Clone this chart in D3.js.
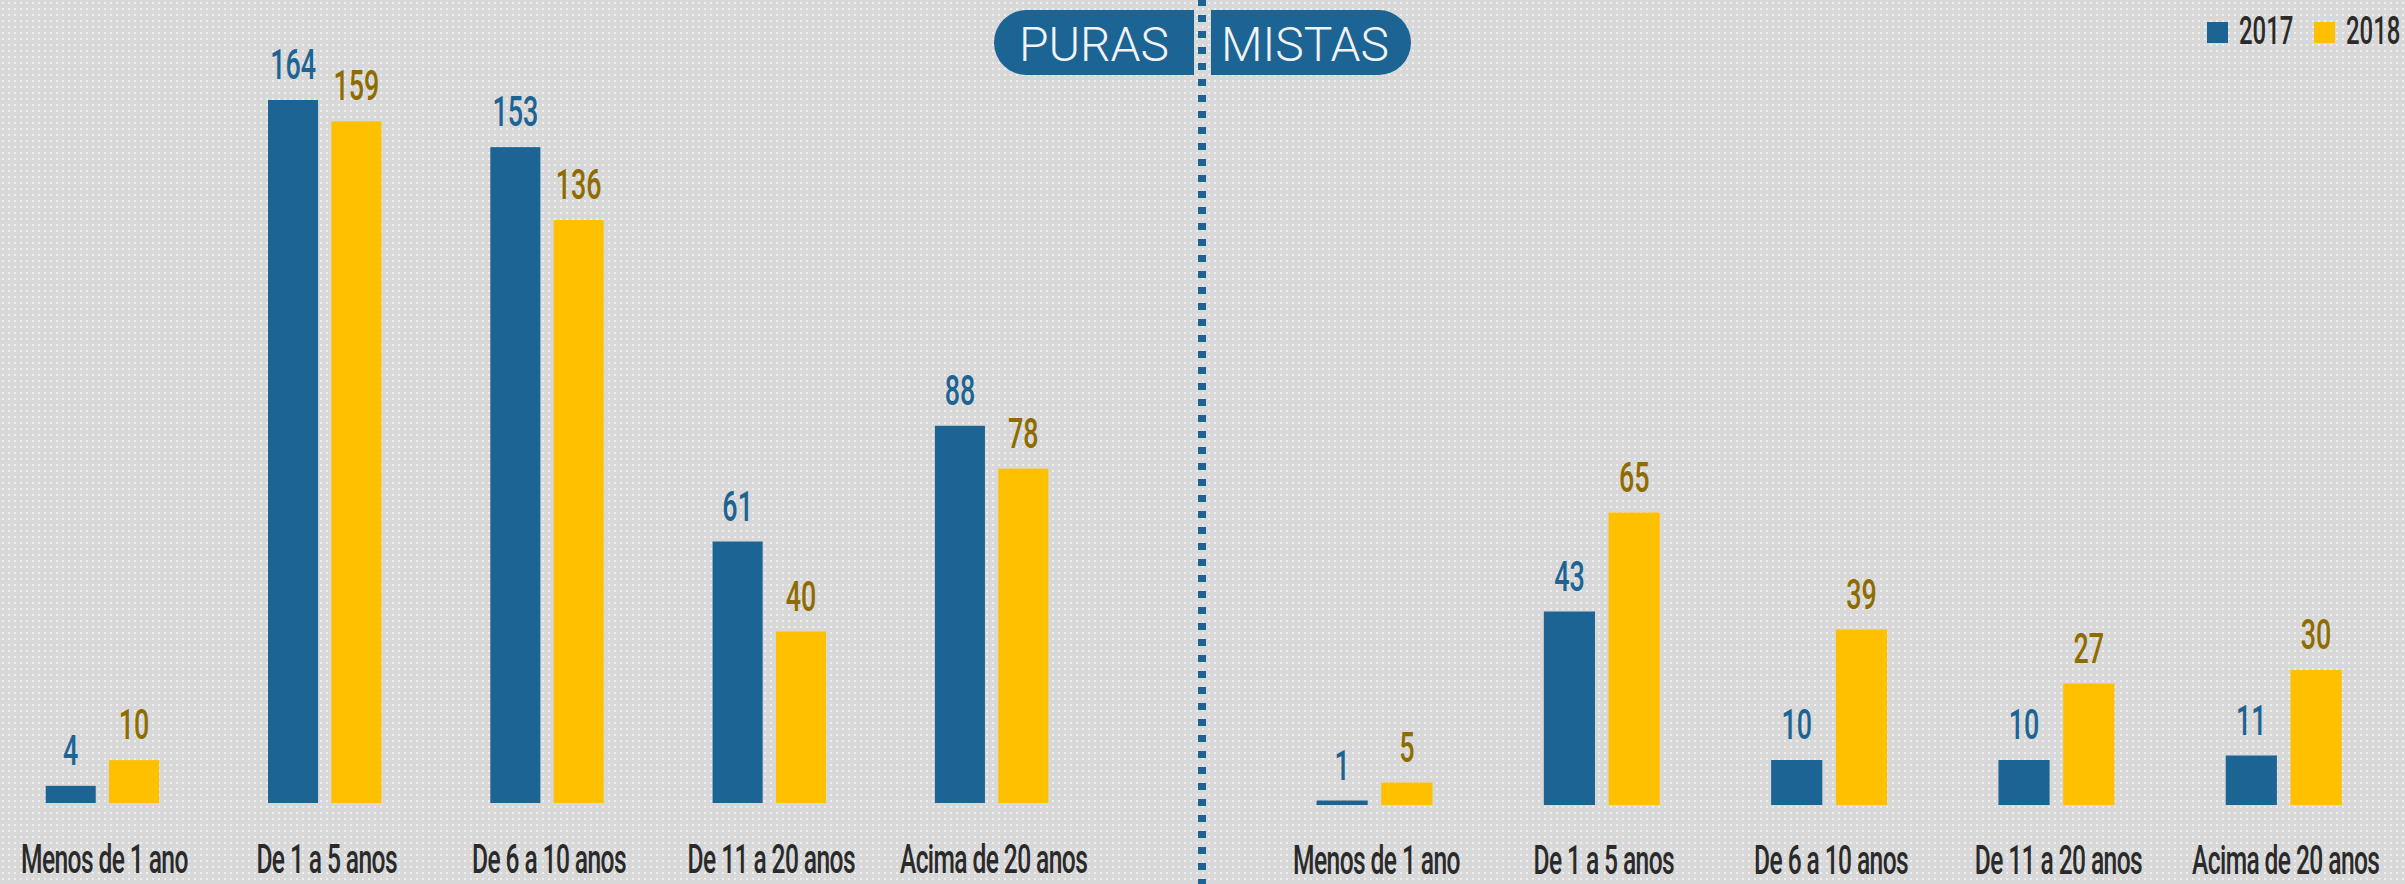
<!DOCTYPE html>
<html lang="pt">
  <head>
    <meta charset="UTF-8" />
    <title>Puras / Mistas</title>
    <script src="https://d3js.org/d3.v7.min.js"></script>
    <style>
      html, body { margin: 0; padding: 0; background: #d9d9d9; }
      svg { display: block; }
      text { font-family: Roboto, 'Noto Sans', sans-serif; }
    </style>
  </head>
  <body>
    <svg width="2405" height="884"></svg>
    <script>
      var categories = ['Menos de 1 ano', 'De 1 a 5 anos', 'De 6 a 10 anos', 'De 11 a 20 anos', 'Acima de 20 anos']
      var years = ['2017', '2018']
      var puras2017 = [4, 164, 153, 61, 88]
      var puras2018 = [10, 159, 136, 40, 78]
      var mistas2017 = [1, 43, 10, 10, 11]
      var mistas2018 = [5, 65, 39, 27, 30]

      var barColor = { '2017': '#1c6494', '2018': '#ffc000' }
      var labelColor = { '2017': '#1c6494', '2018': '#8f6c00' }
      var squeeze = 0.6

      var svg = d3.select('svg')
      var width = +svg.attr('width')
      var height = +svg.attr('height')

      // fundo pontilhado
      var defs = svg.append('defs')
      var pat = defs.append('pattern')
        .attr('id', 'dots')
        .attr('width', 6)
        .attr('height', 6)
        .attr('patternUnits', 'userSpaceOnUse')
      pat.append('rect').attr('width', 6).attr('height', 6).attr('fill', '#d8d8d8')
      pat.append('rect').attr('x', 2).attr('y', 2).attr('width', 2).attr('height', 2).attr('fill', '#eeeeee')
      svg.append('rect').attr('width', width).attr('height', height).attr('fill', 'url(#dots)')

      function drawPanel(v2017, v2018, xRange, y, labelY) {
        var rows = categories.map(function(c, i) {
          return { cat: c, values: [{ year: '2017', v: v2017[i] }, { year: '2018', v: v2018[i] }] }
        })
        var x0 = d3.scaleBand()
          .domain(categories)
          .range(xRange)
          .paddingInner(0.49)
          .paddingOuter(0.245)
        var x1 = d3.scaleBand()
          .domain(years)
          .range([0, x0.bandwidth()])
          .paddingInner(0.21)

        var g = svg.append('g')
        var groups = g.selectAll('.grp')
          .data(rows)
          .enter()
          .append('g')
          .attr('class', 'grp')
          .attr('transform', function(d) { return 'translate(' + x0(d.cat) + ',0)' })

        var bars = groups.selectAll('.bar')
          .data(function(d) { return d.values })
          .enter()

        bars.append('rect')
          .attr('x', function(d) { return x1(d.year) })
          .attr('y', function(d) { return y(d.v) })
          .attr('width', x1.bandwidth())
          .attr('height', function(d) { return y(0) - y(d.v) })
          .attr('fill', function(d) { return barColor[d.year] })

        // valores
        bars.append('text')
          .attr('transform', function(d) {
            return 'translate(' + (x1(d.year) + x1.bandwidth() / 2) + ',' + (y(d.v) - 21) + ') scale(' + (squeeze + 0.04) + ',1)'
          })
          .attr('text-anchor', 'middle')
          .attr('font-size', 42)
          .attr('font-weight', 500)
          .attr('fill', function(d) { return labelColor[d.year] })
          .text(function(d) { return d.v })

        // categorias
        groups.append('text')
          .attr('transform', function(d) {
            return 'translate(' + (x0.bandwidth() / 2 + 2) + ',' + labelY + ') scale(' + squeeze + ',1)'
          })
          .attr('text-anchor', 'middle')
          .attr('font-size', 41)
          .attr('font-weight', 500)
          .attr('letter-spacing', -1)
          .attr('fill', '#2a2a2a')
          .text(function(d) { return d.cat })
      }

      var yPuras = d3.scaleLinear().domain([0, 164]).range([803, 100])
      var yMistas = d3.scaleLinear().domain([0, 65]).range([805, 512.5])

      drawPanel(puras2017, puras2018, [-8.75, 1102.75], yPuras, 873)
      drawPanel(mistas2017, mistas2018, [1260.85, 2397.35], yMistas, 874)

      // linha divisória
      svg.append('line')
        .attr('x1', 1202).attr('x2', 1202)
        .attr('y1', -1).attr('y2', height)
        .attr('stroke', '#1c6494')
        .attr('stroke-width', 8)
        .attr('stroke-dasharray', '7 9')

      // títulos em pílula
      var pillY = 10, pillH = 65, r = 32.5
      svg.append('path')
        .attr('d', 'M1194,' + pillY + ' H' + (994 + r) + ' A' + r + ',' + r + ' 0 0 0 ' + (994 + r) + ',' + (pillY + pillH) + ' H1194 Z')
        .attr('fill', '#1c6494')
      svg.append('path')
        .attr('d', 'M1211,' + pillY + ' H' + (1411 - r) + ' A' + r + ',' + r + ' 0 0 1 ' + (1411 - r) + ',' + (pillY + pillH) + ' H1211 Z')
        .attr('fill', '#1c6494')
      svg.append('text')
        .attr('x', 1094).attr('y', 61)
        .attr('text-anchor', 'middle')
        .attr('font-size', 48)
        .attr('font-weight', 300)
        .attr('fill', '#f2f2f2')
        .text('PURAS')
      svg.append('text')
        .attr('x', 1305).attr('y', 61)
        .attr('text-anchor', 'middle')
        .attr('font-size', 48)
        .attr('font-weight', 300)
        .attr('fill', '#f2f2f2')
        .text('MISTAS')

      // legenda
      var legend = svg.append('g')
        .selectAll('.leg')
        .data(years)
        .enter()
        .append('g')
        .attr('transform', function(d, i) { return 'translate(' + (2207 + i * 107) + ',22)' })
      legend.append('rect')
        .attr('width', 21).attr('height', 21)
        .attr('fill', function(d) { return barColor[d] })
      legend.append('text')
        .attr('transform', 'translate(32,22) scale(' + (squeeze + 0.03) + ',1)')
        .attr('font-size', 38)
        .attr('font-weight', 500)
        .attr('fill', '#2a2a2a')
        .text(function(d) { return d })
    </script>
  </body>
</html>
